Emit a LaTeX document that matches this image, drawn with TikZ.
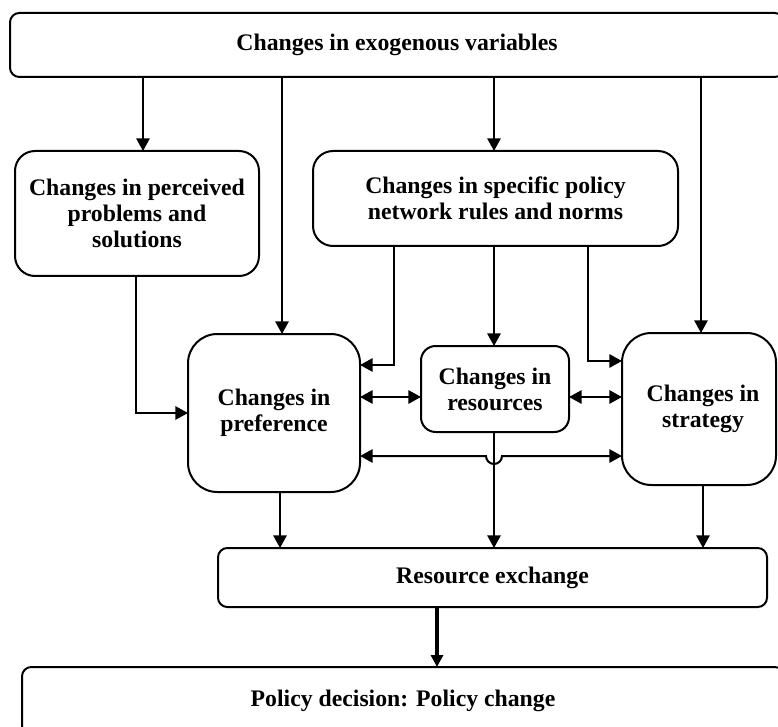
\documentclass[tikz,border=0pt]{standalone}
\usepackage{fontspec}
\setmainfont{Liberation Serif}
\usetikzlibrary{arrows.meta}

\begin{document}
\begin{tikzpicture}[
  x=0.75pt, y=-0.75pt,
  line width=1.5pt,
  box/.style={draw, inner sep=0pt, outer sep=0pt, align=center,
    font=\fontsize{17.8}{19.6}\selectfont\bfseries},
  arr/.style={-{Triangle[length=9.5pt,width=10pt]}},
  darr/.style={{Triangle[length=9.5pt,width=10pt]}-{Triangle[length=9.5pt,width=10pt]}},
  thickarr/.style={line width=2.5pt, -{Triangle[length=9pt,width=9pt]}}
]
\useasboundingbox (0,0) rectangle (778,727);
\clip (0,0) rectangle (778,727);

% boxes
\node[box, rounded corners=7pt,  minimum width=580.5pt, minimum height=48pt]    (exo)   at (397,45)    {Changes in exogenous variables};
\node[box, rounded corners=15pt, minimum width=183pt,   minimum height=93.75pt] (perc)  at (137,213.5) {Changes in perceived\\problems and\\solutions};
\node[box, rounded corners=15pt, minimum width=273.75pt,minimum height=71.25pt] (spec)  at (495.5,198.5) {Changes in specific policy\\network rules and norms};
\node[box, rounded corners=22pt, minimum width=129pt,   minimum height=118.5pt] (pref)  at (274,413)   {Changes in\\preference};
\node[box, rounded corners=11pt, minimum width=111pt,   minimum height=64.5pt]  (res)   at (495,389)   {Changes in\\resources};
\node[box, rounded corners=22pt, minimum width=115.5pt, minimum height=114pt]   (strat) at (699,409)   {\hspace*{6pt}Changes in\\\hspace*{6pt}strategy};
\node[box, rounded corners=7pt,  minimum width=411.75pt,minimum height=44.25pt] (rex)   at (492.5,577.5) {Resource exchange};
\node[box, rounded corners=7pt,  minimum width=571.5pt, minimum height=51pt]    (dec)   at (403,701)   {Policy decision: Policy change};

% exogenous changes feed down
\draw[arr] (exo.south -| 143,0) -- (perc.north -| 143,0);
\draw[arr] (exo.south -| 282,0) -- (pref.north -| 282,0);
\draw[arr] (exo.south -| 494,0) -- (spec.north -| 494,0);
\draw[arr] (exo.south -| 701,0) -- (strat.north -| 701,0);

% perceived problems and network rules
\draw[arr] (perc.south -| 136,0) |- (pref.west |- 0,413);
\draw[arr] (spec.south -| 394,0) |- (pref.east |- 0,365);
\draw[arr] (spec.south -| 494,0) -- (res.north -| 494,0);
\draw[arr] (spec.south -| 588,0) |- (strat.west |- 0,361);

% mutual links
\draw[darr] (pref.east |- 0,397) -- (res.west |- 0,397);
\draw[darr] (res.east |- 0,397) -- (strat.west |- 0,397);
\draw[darr] (pref.east |- 0,456) -- (486,456)
  arc[start angle=180, end angle=0, radius=8] -- (strat.west |- 0,456);

% into resource exchange
\draw[arr] (pref.south -| 280,0) -- (rex.north -| 280,0);
\draw[arr] (res.south -| 494,0) -- (rex.north -| 494,0);
\draw[arr] (strat.south -| 703,0) -- (rex.north -| 703,0);

% to the decision
\draw[thickarr] (rex.south -| 437,0) -- (dec.north -| 437,0);
\end{tikzpicture}
\end{document}
